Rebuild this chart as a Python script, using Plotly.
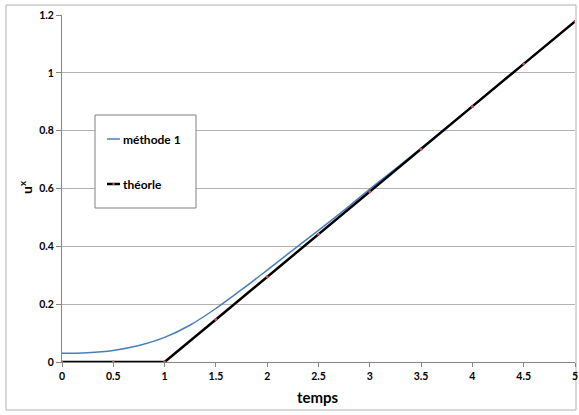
import plotly.graph_objects as go

# data
t_method = [0, 0.25, 0.5, 0.75, 1, 1.25, 1.5, 1.75, 2, 2.25, 2.5, 2.75, 3, 3.25, 3.5, 4, 4.5, 5]
u_method = [0.030, 0.032, 0.040, 0.057, 0.085, 0.128, 0.185, 0.250, 0.318, 0.387, 0.455,
            0.525, 0.598, 0.668, 0.740, 0.885, 1.030, 1.178]
t_theory = [0, 0.5, 1, 1.5, 2, 2.5, 3, 3.5, 4, 4.5, 5]
u_theory = [0, 0, 0, 0.147, 0.295, 0.442, 0.589, 0.736, 0.884, 1.031, 1.178]
x_ticks = [0, 0.5, 1, 1.5, 2, 2.5, 3, 3.5, 4, 4.5, 5]
y_ticks = [0, 0.2, 0.4, 0.6, 0.8, 1, 1.2]
legend_names = ["méthode 1", "théorle"]
x_title = "temps"
y_title = "u<sup>x</sup>"

W, H = 579, 415
L, R, T, B = 62, 4, 15, 53
pw, ph = W - L - R, H - T - B

def px(x):
    return (x - L) / pw

def py(y):
    return (H - B - y) / ph

FONT = "Lato"
BLUE = "#4a7ebb"

fig = go.Figure()
fig.add_trace(go.Scatter(x=t_method, y=u_method, mode="lines", name=legend_names[0],
                         line=dict(color=BLUE, width=1.5, shape="spline"), showlegend=False))
fig.add_trace(go.Scatter(x=t_theory, y=u_theory, mode="lines+markers", name=legend_names[1],
                         line=dict(color="black", width=2.5),
                         marker=dict(color="#c0504d", size=3, line=dict(width=0)), showlegend=False))

shapes = [
    # outer border
    dict(type="rect", xref="paper", yref="paper", x0=px(6), x1=px(576), y0=py(410), y1=py(5),
         line=dict(color="#b0b0b0", width=1), layer="below"),
    # legend box
    dict(type="rect", xref="paper", yref="paper", x0=px(95), x1=px(196), y0=py(208), y1=py(115),
         line=dict(color="#808080", width=1), fillcolor="white"),
    dict(type="line", xref="paper", yref="paper", x0=px(107), x1=px(120), y0=py(139), y1=py(139),
         line=dict(color=BLUE, width=1.5)),
    dict(type="line", xref="paper", yref="paper", x0=px(107), x1=px(120), y0=py(184), y1=py(184),
         line=dict(color="black", width=2.5)),
    dict(type="rect", xref="paper", yref="paper", x0=px(112.5), x1=px(114.5), y0=py(185), y1=py(183),
         line=dict(width=0), fillcolor="#c0504d"),
]
annotations = [
    dict(xref="paper", yref="paper", x=px(121), y=py(139), text="<b>" + legend_names[0] + "</b>",
         showarrow=False, xanchor="left", yanchor="middle", font=dict(family=FONT, size=12, color="black")),
    dict(xref="paper", yref="paper", x=px(121), y=py(184), text="<b>" + legend_names[1] + "</b>",
         showarrow=False, xanchor="left", yanchor="middle", font=dict(family=FONT, size=12, color="black")),
    dict(xref="paper", yref="paper", x=px(318), y=py(397), text="<b>" + x_title + "</b>",
         showarrow=False, xanchor="center", yanchor="middle", font=dict(family=FONT, size=15, color="black")),
    dict(xref="paper", yref="paper", x=px(25), y=py(187), text="<b>" + y_title + "</b>", textangle=-90,
         showarrow=False, xanchor="center", yanchor="middle", font=dict(family=FONT, size=14, color="black")),
]

fig.update_layout(
    width=W, height=H,
    margin=dict(l=L, r=R, t=T, b=B, autoexpand=False),
    paper_bgcolor="white", plot_bgcolor="white",
    shapes=shapes, annotations=annotations,
    font=dict(family=FONT, color="black"),
    xaxis=dict(range=[0, 5], tickvals=x_ticks, ticktext=[f"<b>{v:g}</b>" for v in x_ticks],
               showgrid=False, zeroline=False, showline=True, linecolor="#868686", linewidth=1,
               ticks="outside", ticklen=4, tickcolor="#868686", automargin=False,
               tickfont=dict(family=FONT, size=10.5, color="black")),
    yaxis=dict(range=[0, 1.2], tickvals=y_ticks, ticktext=[f"<b>{v:g}</b>" for v in y_ticks],
               showgrid=True, gridcolor="#b3b3b3", gridwidth=1, zeroline=False,
               showline=True, linecolor="#868686", linewidth=1, automargin=False,
               ticks="outside", ticklen=5, tickcolor="#868686",
               tickfont=dict(family=FONT, size=10.5, color="black")),
)

fig.write_html("out.html", config={"displayModeBar": False},
               post_script="document.body.style.margin='0';document.body.style.overflow='hidden';")
